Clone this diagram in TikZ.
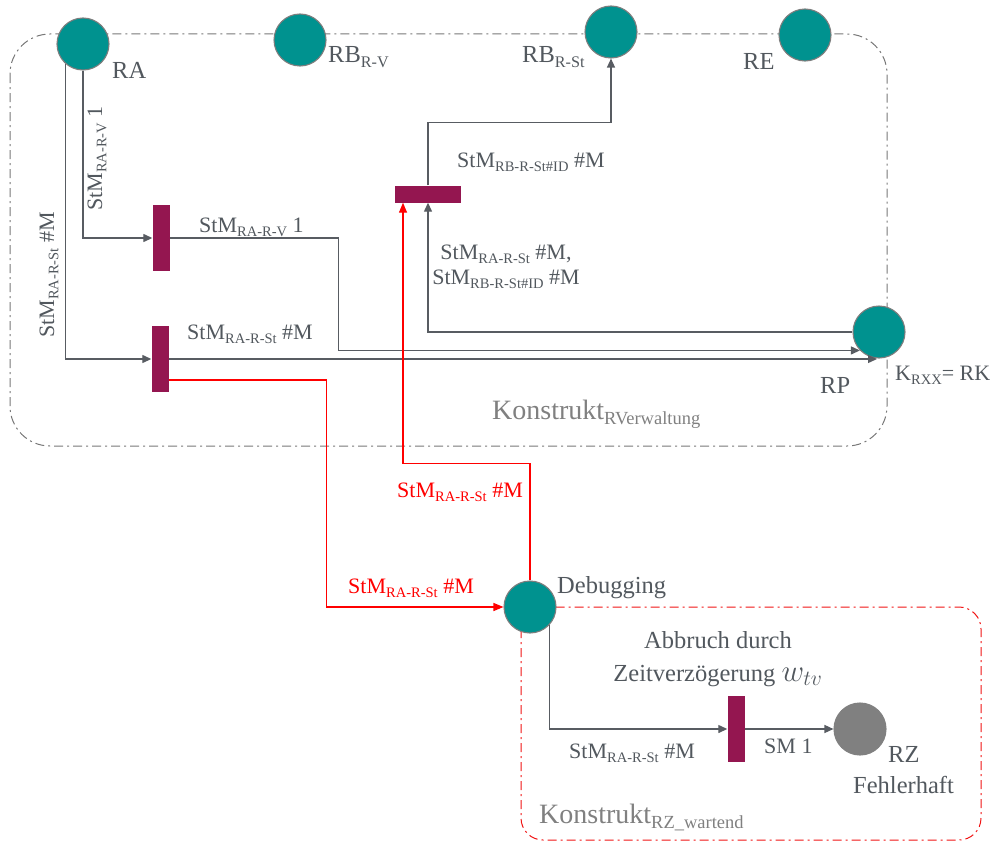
\documentclass[tikz,border=0pt]{standalone}
\usepackage{fontspec}
\setmainfont{Liberation Serif}
\usepackage{graphicx}
\usetikzlibrary{arrows.meta,calc}

\definecolor{placeteal}{RGB}{0,146,143}
\definecolor{placerim}{RGB}{125,125,125}
\definecolor{failgray}{RGB}{128,128,128}
\definecolor{transred}{RGB}{148,22,80}
\definecolor{ink}{RGB}{82,88,94}
\definecolor{wire}{RGB}{88,92,98}
\definecolor{framegray}{RGB}{120,120,120}
\definecolor{framered}{RGB}{240,20,20}
\definecolor{frametext}{RGB}{128,128,128}

% lowered, reduced index text
\newcommand\ix[1]{\raisebox{-0.2em}{\scalebox{0.66}{#1}}}

\begin{document}
\begin{tikzpicture}[x=1pt,y=-1pt,
  place/.style={circle,fill=placeteal,draw=placerim,line width=1.1pt,minimum size=52pt,inner sep=0pt},
  failplace/.style={place,fill=failgray,draw=failgray},
  transv/.style={rectangle,fill=transred,draw=none,minimum width=17pt,minimum height=66pt,inner sep=0pt},
  transh/.style={rectangle,fill=transred,draw=none,minimum width=66pt,minimum height=17pt,inner sep=0pt},
  flow/.style={draw=wire,line width=1.3pt,-{Triangle[length=9pt,width=8pt]}},
  redflow/.style={draw=red,line width=1.3pt,-{Triangle[length=10pt,width=8pt]}},
  lbl/.style={text=ink,font=\fontsize{22}{25}\selectfont,inner sep=0pt},
  redlbl/.style={lbl,text=red},
  pname/.style={text=ink,font=\fontsize{24.5}{29}\selectfont,inner sep=0pt},
  constr/.style={text=frametext,font=\fontsize{28}{32}\selectfont,inner sep=0pt},
  frameline/.style={line width=1pt,dash pattern=on 9pt off 4pt on 2pt off 4pt},
]
\useasboundingbox (0,0) rectangle (992,843);

% construct frames
\draw[frameline,draw=framegray,rounded corners=40pt] (10,34) rectangle (887,446);
\draw[frameline,draw=framered,rounded corners=22pt] (521,607) rectangle (981,840);

% places
\node[place] (RA)   at (83,44)  {};
\node[place] (RBV)  at (300,40) {};
\node[place] (RBSt) at (611,32) {};
\node[place] (RE)   at (805,35) {};
\node[place] (RP)   at (879,332) {};
\node[place] (Dbg)  at (530,607) {};
\node[failplace] (RZ) at (860,729) {};

% transitions
\node[transv] (T1) at (161,238) {};
\node[transv] (T2) at (160,359) {};
\node[transh] (T3) at (428,194) {};
\node[transv] (T4) at (736,729) {};

% arcs
\draw[flow] (RA.south) |- (T1.west);
\draw[flow] (RA.229) |- (T2.west);
\draw[flow] (T1.east) -- ++(168.5,0) |- (RP.224);
\draw[flow] (T2.east) -- ($(T2.east -| RP.south)+(-2,0)$);
\draw[flow] (RP.west) -| (T3.south);
\draw[flow] (T3.north) -- ++(0,-62.5) -| (RBSt.south);
\draw[redflow] ($(T2.east)+(0,21)$) -- ++(157.5,0) |- (Dbg.west);
\draw[redflow] (Dbg.north) -- ++(0,-117) -| ($(T3.south)+(-25,0)$);
\draw[flow] (Dbg.317) |- (T4.west);
\draw[flow] (T4.east) -- (RZ.west);

% place names
\node[pname,anchor=base west] (nRA)   at (112,78)  {RA};
\node[pname,anchor=base west] (nRBV)  at (328,63)  {RB\ix{R-V}};
\node[pname,anchor=base west] (nRBSt) at (522,63)  {RB\ix{R-St}};
\node[pname,anchor=base west] (nRE)   at (743,70)  {RE};
\node[pname,anchor=base west] (nRP)   at (820,393) {RP};
\node[lbl,anchor=base west]   (nRK)   at (895,380) {K\ix{RXX}= RK};
\node[pname,anchor=base west] (nDbg)  at (557,593) {Debugging};
\node[pname,anchor=base west] (nRZ)   at (888,762) {RZ};
\node[pname,anchor=base west] (nFeh)  at (853,793) {Fehlerhaft};
\node[pname,anchor=base] (nAbb)  at (718,648) {Abbruch durch};
\node[pname,anchor=base] (nZeit) at (718,681)
  {Zeitverzögerung \scalebox{1.25}{$w_{tv}$}};

% construct names
\node[constr,anchor=base west] (kV) at (492,419) {Konstrukt\ix{RVerwaltung}};
\node[constr,anchor=base west] (kZ) at (539,823) {Konstrukt\ix{RZ\_wartend}};

% arc inscriptions
\node[lbl,anchor=base west,rotate=90] (a1) at (102,211) {StM\ix{RA-R-V} 1};
\node[lbl,anchor=base west,rotate=90] (a2) at (54,338)  {StM\ix{RA-R-St} \#M};
\node[lbl,anchor=base west] (a3) at (199,232) {StM\ix{RA-R-V} 1};
\node[lbl,anchor=base west] (a4) at (187,339) {StM\ix{RA-R-St} \#M};
\node[lbl,anchor=base west] (a5) at (457,167) {StM\ix{RB-R-St\#ID} \#M};
\node[lbl,align=center,anchor=base] (a6) at (506,284)
  {StM\ix{RA-R-St} \#M,\\StM\ix{RB-R-St\#ID} \#M};
\node[redlbl,anchor=base west] (a7) at (397,497) {StM\ix{RA-R-St} \#M};
\node[redlbl,anchor=base west] (a8) at (348,593) {StM\ix{RA-R-St} \#M};
\node[lbl,anchor=base west] (a9) at (569,758) {StM\ix{RA-R-St} \#M};
\node[lbl,anchor=base west] (a10) at (764,753) {SM 1};
\end{tikzpicture}
\end{document}
